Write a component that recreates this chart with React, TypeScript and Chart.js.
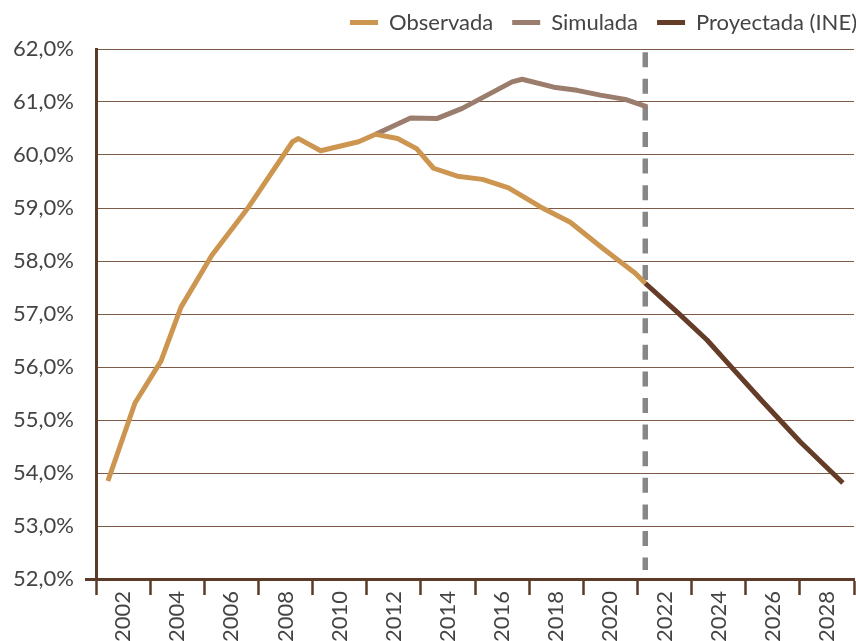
import React, { useEffect, useRef } from 'react';
import { Chart, registerables } from 'chart.js';

Chart.register(...registerables);

// ---- data ----
const xTickLabels = ['2002', '2004', '2006', '2008', '2010', '2012', '2014', '2016', '2018', '2020', '2022', '2024', '2026', '2028'];

const obsYears = [2000.94, 2001.94, 2002.9, 2003.64, 2004.78, 2006.14, 2007.76, 2007.98, 2008.8, 2010.2, 2010.83, 2011.64, 2012.34, 2012.97, 2013.85, 2014.78, 2015.74, 2016.92, 2018.02, 2019.24, 2020.42, 2020.79];
const obsValues = [53.85, 55.32, 56.11, 57.13, 58.11, 59.02, 60.25, 60.31, 60.08, 60.25, 60.39, 60.31, 60.12, 59.75, 59.6, 59.54, 59.38, 59.02, 58.73, 58.23, 57.77, 57.58];

const simYears = [2010.83, 2012.12, 2013.11, 2014.03, 2015.87, 2016.24, 2017.41, 2018.27, 2019.13, 2020.05, 2020.86];
const simValues = [60.39, 60.7, 60.69, 60.88, 61.38, 61.43, 61.28, 61.22, 61.13, 61.05, 60.91];

const projYears = [2020.79, 2021.96, 2023.07, 2023.93, 2025.14, 2026.51, 2028.09];
const projValues = [57.58, 57.04, 56.51, 56.02, 55.34, 54.59, 53.81];

const dividerValues = [61.94, 52.17];

const seriesNames = ['Observada', 'Simulada', 'Proyectada (INE)'];
const seriesColors = ['#CD9650', '#9B7D6E', '#643C28'];

const FONT = 'Lato, "Open Sans", sans-serif';
const TEXT = '#444444';
const AXIS = '#5C3A28';
const GRID = '#7D5B47';

const toPoints = (xs: number[], ys: number[]) => xs.map((x, i) => ({ x, y: ys[i] }));

export default function App() {
  const ref = useRef<HTMLCanvasElement | null>(null);

  useEffect(() => {
    if (!ref.current) return;

    // axis ticks: boundaries (marks) every two years, labels in between
    const first = Number(xTickLabels[0]);
    const last = Number(xTickLabels[xTickLabels.length - 1]);
    const tickDefs: { value: number; label: string; mark: boolean }[] = [];
    xTickLabels.forEach((lab) => {
      const y = Number(lab);
      tickDefs.push({ value: y - 1.5, label: '', mark: true });
      tickDefs.push({ value: y - 0.5, label: lab, mark: false });
    });
    tickDefs.push({ value: last + 0.5, label: '', mark: true });

    const splitYear = obsYears[obsYears.length - 1];

    const legendShift = {
      id: 'legendShift',
      afterLayout(chart: any) {
        const lg = chart.legend;
        if (!lg) return;
        const pad = lg.options.labels.padding;
        lg.left += pad + 3;
        lg.right += pad + 3;
        lg.top -= 7.5;
        lg.bottom -= 7.5;
      },
    };

    const chart = new Chart(ref.current, {
      type: 'line',
      data: {
        datasets: [
          {
            label: seriesNames[0],
            data: toPoints(obsYears, obsValues),
            borderColor: seriesColors[0],
            backgroundColor: seriesColors[0],
            borderWidth: 5,
            pointRadius: 0,
            tension: 0,
            borderJoinStyle: 'round',
          },
          {
            label: seriesNames[1],
            data: toPoints(simYears, simValues),
            borderColor: seriesColors[1],
            backgroundColor: seriesColors[1],
            borderWidth: 5,
            pointRadius: 0,
            tension: 0,
            borderJoinStyle: 'round',
          },
          {
            label: seriesNames[2],
            data: toPoints(projYears, projValues),
            borderColor: seriesColors[2],
            backgroundColor: seriesColors[2],
            borderWidth: 5,
            pointRadius: 0,
            tension: 0,
            borderJoinStyle: 'round',
          },
          {
            label: 'divider',
            data: dividerValues.map((v) => ({ x: splitYear, y: v })),
            borderColor: '#878787',
            backgroundColor: '#878787',
            borderWidth: 5.5,
            borderDash: [15, 11.6],
            pointRadius: 0,
            borderCapStyle: 'butt',
          },
        ],
      },
      options: {
        responsive: false,
        animation: false,
        devicePixelRatio: 1,
        layout: { padding: { top: 0, right: 2, bottom: 0, left: 0 } },
        plugins: {
          tooltip: { enabled: false },
          legend: {
            display: true,
            position: 'top',
            align: 'end',
            maxHeight: 49,
            labels: {
              font: { family: FONT, size: 22, weight: '400' },
              color: TEXT,
              boxWidth: 28,
              boxHeight: 5,
              padding: 19,
              generateLabels: (ch: any) =>
                ch.data.datasets.slice(0, 3).map((ds: any, i: number) => ({
                  text: ds.label,
                  fillStyle: ds.borderColor,
                  strokeStyle: ds.borderColor,
                  lineWidth: 0,
                  hidden: false,
                  datasetIndex: i,
                  fontColor: TEXT,
                })),
            },
          },
        },
        scales: {
          x: {
            type: 'linear',
            min: first - 1.5,
            max: last + 0.5,
            afterBuildTicks: (scale: any) => {
              scale.ticks = tickDefs.map((t) => ({ value: t.value }));
            },
            afterFit: (scale: any) => {
              scale.height = 62;
              scale.paddingLeft = 0;
              scale.paddingRight = 0;
            },
            ticks: {
              autoSkip: false,
              maxRotation: 90,
              minRotation: 90,
              padding: -4,
              color: TEXT,
              font: { family: FONT, size: 22, weight: '400' },
              callback: (_v: any, i: number) => (tickDefs[i] ? tickDefs[i].label : ''),
            },
            grid: {
              display: true,
              drawOnChartArea: false,
              drawTicks: true,
              tickLength: 16,
              tickWidth: 2.5,
              tickColor: (ctx: any) => (tickDefs[ctx.index] && tickDefs[ctx.index].mark ? AXIS : 'rgba(0,0,0,0)'),
              color: 'rgba(0,0,0,0)',
            },
            border: { display: true, color: AXIS, width: 3 },
          },
          y: {
            type: 'linear',
            min: 52,
            max: 62,
            afterFit: (scale: any) => {
              scale.width = 96;
            },
            ticks: {
              stepSize: 1,
              padding: 11,
              color: TEXT,
              font: { family: FONT, size: 22, weight: '400' },
              callback: (v: any) => Number(v).toFixed(1).replace('.', ',') + '%',
            },
            grid: {
              display: true,
              color: GRID,
              lineWidth: 1,
              drawTicks: true,
              tickLength: 11,
              tickWidth: 3,
              tickColor: (ctx: any) => (ctx.tick && ctx.tick.value === 52 ? AXIS : 'rgba(0,0,0,0)'),
            },
            border: { display: true, color: AXIS, width: 3 },
          },
        },
      },
      plugins: [legendShift],
    } as any);

    return () => chart.destroy();
  }, []);

  return (
    <div style={{ position: 'absolute', left: 0, top: 0, width: 856, height: 641, background: '#fff' }}>
      <canvas ref={ref} width={856} height={641} style={{ display: 'block', width: 856, height: 641 }} />
    </div>
  );
}
